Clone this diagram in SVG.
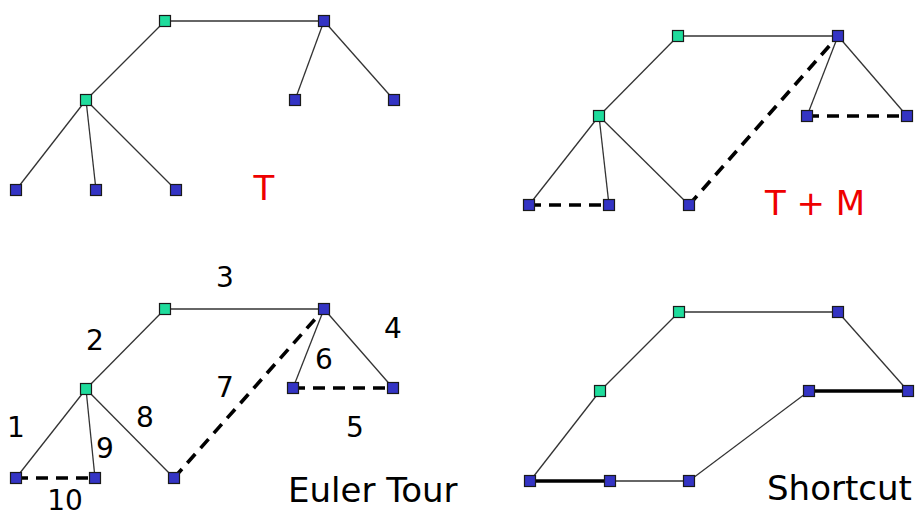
<svg xmlns="http://www.w3.org/2000/svg" width="917" height="517" viewBox="0 0 917 517">
<style>
.e{stroke:#333;stroke-width:1.3;fill:none}
.d{stroke:#000;stroke-width:3.6;stroke-dasharray:12 8;fill:none}
.s{stroke:#000;stroke-width:3.4;fill:none}
.g{fill:#1fdc9c;stroke:#1a1a1a;stroke-width:1.2}
.b{fill:#3434c4;stroke:#1a1a1a;stroke-width:1.2}
.lbl{font-family:"DejaVu Sans",Verdana,sans-serif;font-size:28px;fill:#000;text-anchor:middle}
.ttl{font-family:"DejaVu Sans",Verdana,sans-serif;font-size:34px}
.red{fill:#ee0000}
</style>
<rect width="917" height="517" fill="#fff"/>
<g id="connectors">
<line class="e" x1="165" y1="21" x2="324" y2="21"/>
<line class="e" x1="165" y1="21" x2="86" y2="100"/>
<line class="e" x1="324" y1="21" x2="295" y2="100"/>
<line class="e" x1="324" y1="21" x2="394" y2="100"/>
<line class="e" x1="86" y1="100" x2="16" y2="190"/>
<line class="e" x1="86" y1="100" x2="96" y2="190"/>
<line class="e" x1="86" y1="100" x2="176" y2="190"/>
<line class="e" x1="678" y1="36" x2="838" y2="36"/>
<line class="e" x1="678" y1="36" x2="599" y2="116"/>
<line class="e" x1="838" y1="36" x2="807" y2="116"/>
<line class="e" x1="838" y1="36" x2="907" y2="116"/>
<line class="e" x1="599" y1="116" x2="529" y2="205"/>
<line class="e" x1="599" y1="116" x2="609" y2="205"/>
<line class="e" x1="599" y1="116" x2="689" y2="205"/>
<line class="d" x1="529" y1="205" x2="609" y2="205"/>
<line class="d" x1="807" y1="116" x2="907" y2="116"/>
<line class="d" x1="689" y1="205" x2="838" y2="36"/>
<line class="e" x1="165" y1="309" x2="324" y2="309"/>
<line class="e" x1="165" y1="309" x2="86" y2="389"/>
<line class="e" x1="324" y1="309" x2="293" y2="388"/>
<line class="e" x1="324" y1="309" x2="393" y2="388"/>
<line class="e" x1="86" y1="389" x2="16" y2="478"/>
<line class="e" x1="86" y1="389" x2="95" y2="478"/>
<line class="e" x1="86" y1="389" x2="174" y2="478"/>
<line class="d" x1="16" y1="478" x2="95" y2="478"/>
<line class="d" x1="293" y1="388" x2="393" y2="388"/>
<line class="d" x1="174" y1="478" x2="324" y2="309"/>
<line class="e" x1="679" y1="312" x2="838" y2="312"/>
<line class="e" x1="838" y1="312" x2="908" y2="391"/>
<line class="s" x1="908" y1="391" x2="809" y2="391"/>
<line class="e" x1="809" y1="391" x2="689" y2="481"/>
<line class="e" x1="689" y1="481" x2="610" y2="481"/>
<line class="s" x1="610" y1="481" x2="530" y2="481"/>
<line class="e" x1="530" y1="481" x2="600" y2="391"/>
<line class="e" x1="600" y1="391" x2="679" y2="312"/>
</g>
<g id="nodes">
<g id="t-a"><rect class="g" x="159.5" y="15.5" width="11" height="11"/></g>
<g id="t-b"><rect class="b" x="318.5" y="15.5" width="11" height="11"/></g>
<g id="t-c"><rect class="g" x="80.5" y="94.5" width="11" height="11"/></g>
<g id="t-d"><rect class="b" x="289.5" y="94.5" width="11" height="11"/></g>
<g id="t-e"><rect class="b" x="388.5" y="94.5" width="11" height="11"/></g>
<g id="t-f"><rect class="b" x="10.5" y="184.5" width="11" height="11"/></g>
<g id="t-g"><rect class="b" x="90.5" y="184.5" width="11" height="11"/></g>
<g id="t-h"><rect class="b" x="170.5" y="184.5" width="11" height="11"/></g>

<g id="m-a"><rect class="g" x="672.5" y="30.5" width="11" height="11"/></g>
<g id="m-b"><rect class="b" x="832.5" y="30.5" width="11" height="11"/></g>
<g id="m-c"><rect class="g" x="593.5" y="110.5" width="11" height="11"/></g>
<g id="m-d"><rect class="b" x="801.5" y="110.5" width="11" height="11"/></g>
<g id="m-e"><rect class="b" x="901.5" y="110.5" width="11" height="11"/></g>
<g id="m-f"><rect class="b" x="523.5" y="199.5" width="11" height="11"/></g>
<g id="m-g"><rect class="b" x="603.5" y="199.5" width="11" height="11"/></g>
<g id="m-h"><rect class="b" x="683.5" y="199.5" width="11" height="11"/></g>

<g id="e-a"><rect class="g" x="159.5" y="303.5" width="11" height="11"/></g>
<g id="e-b"><rect class="b" x="318.5" y="303.5" width="11" height="11"/></g>
<g id="e-c"><rect class="g" x="80.5" y="383.5" width="11" height="11"/></g>
<g id="e-d"><rect class="b" x="287.5" y="382.5" width="11" height="11"/></g>
<g id="e-e"><rect class="b" x="387.5" y="382.5" width="11" height="11"/></g>
<g id="e-f"><rect class="b" x="10.5" y="472.5" width="11" height="11"/></g>
<g id="e-g"><rect class="b" x="89.5" y="472.5" width="11" height="11"/></g>
<g id="e-h"><rect class="b" x="168.5" y="472.5" width="11" height="11"/></g>

<g id="s-a"><rect class="g" x="673.5" y="306.5" width="11" height="11"/></g>
<g id="s-b"><rect class="b" x="832.5" y="306.5" width="11" height="11"/></g>
<g id="s-c"><rect class="g" x="594.5" y="385.5" width="11" height="11"/></g>
<g id="s-d"><rect class="b" x="803.5" y="385.5" width="11" height="11"/></g>
<g id="s-e"><rect class="b" x="902.5" y="385.5" width="11" height="11"/></g>
<g id="s-f"><rect class="b" x="524.5" y="475.5" width="11" height="11"/></g>
<g id="s-g"><rect class="b" x="604.5" y="475.5" width="11" height="11"/></g>
<g id="s-h"><rect class="b" x="683.5" y="475.5" width="11" height="11"/></g>
</g>
<g id="labels">
<text class="lbl" x="225" y="287">3</text>
<text class="lbl" x="95" y="350">2</text>
<text class="lbl" x="393" y="338">4</text>
<text class="lbl" x="324" y="369">6</text>
<text class="lbl" x="225" y="397">7</text>
<text class="lbl" x="145" y="427">8</text>
<text class="lbl" x="16" y="437">1</text>
<text class="lbl" x="105" y="458">9</text>
<text class="lbl" x="355" y="437">5</text>
<text class="lbl" x="65" y="510">10</text>
</g>
<g id="titles">
<text class="ttl red" x="264" y="200" text-anchor="middle" font-size="38">T</text>
<text class="ttl red" x="765" y="215" font-size="36">T + M</text>
<text class="ttl" x="288" y="502">Euler Tour</text>
<text class="ttl" x="767" y="500">Shortcut</text>
</g>
</svg>
